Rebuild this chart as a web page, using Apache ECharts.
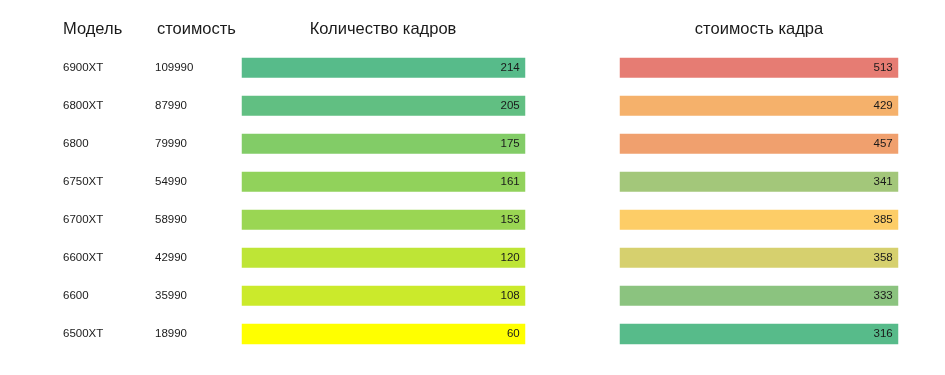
<!DOCTYPE html>
<html>
<head>
<meta charset="utf-8">
<script src="https://cdn.jsdelivr.net/npm/echarts@6/dist/echarts.min.js"></script>
<style>
  html, body { margin: 0; background: #fff; }
  #chart { width: 945px; height: 375px; }
</style>
</head>
<body>
<div id="chart"></div>
<script>
const models = ['6900XT', '6800XT', '6800', '6750XT', '6700XT', '6600XT', '6600', '6500XT']
const prices = ['109990', '87990', '79990', '54990', '58990', '42990', '35990', '18990']
const frames = [214, 205, 175, 161, 153, 120, 108, 60]
const frameCost = [513, 429, 457, 341, 385, 358, 333, 316]

const FONT = '"Liberation Sans", Arial, sans-serif'

// 3-цветная шкала как в таблице: зелёный - жёлтый (медиана) - красный
function threeStop(values, n) {
  const sorted = [...values].sort((a, b) => a - b)
  const mid = (sorted[3] + sorted[4]) / 2
  const lo = sorted[0], hi = sorted[sorted.length - 1]
  const out = []
  for (let k = 0; k <= n; k++) {
    const v = lo + (hi - lo) * k / n
    if (v <= mid) out.push(echarts.color.lerp((v - lo) / (mid - lo), ['#57bb8a', '#ffd666']))
    else out.push(echarts.color.lerp((v - mid) / (hi - mid), ['#ffd666', '#e67c73']))
  }
  return out
}

const chart = echarts.init(document.getElementById('chart'))

const rowLabel = { fontFamily: FONT, fontSize: 11.5, color: '#1a1a1a' }
const head = { fontFamily: FONT, fontSize: 16.5, fontWeight: 'normal', color: '#1a1a1a' }

function cellSeries(values, idx, labelX) {
  return {
    type: 'heatmap',
    xAxisIndex: idx,
    yAxisIndex: idx === 0 ? 0 : 2,
    data: values.map((v, i) => [0, i, v]),
    itemStyle: { borderColor: '#fff', borderWidth: 18 },
    label: {
      show: true,
      position: [labelX, '50%'],
      align: 'right',
      verticalAlign: 'middle',
      fontFamily: FONT,
      fontSize: 11.5,
      color: '#1a1a1a'
    },
    emphasis: { disabled: true }
  }
}

const option = {
  animation: false,
  title: [
    { text: 'Модель', left: 63, top: 21, padding: 0, textStyle: head },
    { text: 'стоимость', left: 157, top: 21, padding: 0, textStyle: head },
    { text: 'Количество кадров', left: 383, top: 21, padding: 0, textAlign: 'center', textStyle: head },
    { text: 'стоимость кадра', left: 759, top: 21, padding: 0, textAlign: 'center', textStyle: head }
  ],
  grid: [
    { left: 233, top: 49, width: 301, height: 304 },
    { left: 611, top: 49, width: 296, height: 304 }
  ],
  xAxis: [
    { type: 'category', gridIndex: 0, data: [''], show: false },
    { type: 'category', gridIndex: 1, data: [''], show: false }
  ],
  yAxis: [
    {
      type: 'category', gridIndex: 0, data: models, inverse: true, position: 'left',
      axisLine: { show: false }, axisTick: { show: false },
      axisLabel: { ...rowLabel, align: 'left', margin: 170 }
    },
    {
      type: 'category', gridIndex: 0, data: prices, inverse: true, position: 'left',
      axisLine: { show: false }, axisTick: { show: false },
      axisLabel: { ...rowLabel, align: 'left', margin: 78 }
    },
    {
      type: 'category', gridIndex: 1, data: models, inverse: true, show: false
    }
  ],
  visualMap: [
    {
      show: false, seriesIndex: 0, dimension: 2,
      min: Math.min(...frames), max: Math.max(...frames),
      inRange: { color: ['#ffff00', '#57bb8a'] }
    },
    {
      show: false, seriesIndex: 1, dimension: 2,
      min: Math.min(...frameCost), max: Math.max(...frameCost),
      inRange: { color: threeStop(frameCost, 60) }
    }
  ],
  series: [cellSeries(frames, 0, 296), cellSeries(frameCost, 1, 291)]
}

chart.setOption(option)
</script>
</body>
</html>
